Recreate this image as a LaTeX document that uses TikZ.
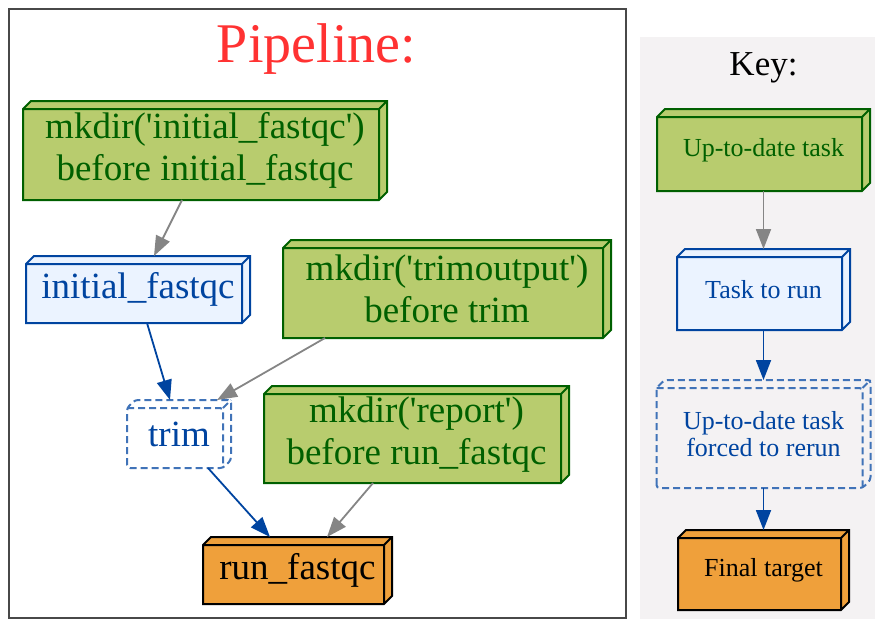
\documentclass[tikz,border=0pt]{standalone}
\usepackage{fontspec}
\setmainfont{Liberation Serif}[Ligatures=TeXOff]
\usetikzlibrary{arrows.meta,backgrounds}

\definecolor{donefill}{HTML}{B8CC6E}
\definecolor{doneline}{HTML}{006000}
\definecolor{runfill}{HTML}{EBF3FF}
\definecolor{runline}{HTML}{0044A0}
\definecolor{targetfill}{HTML}{EFA03B}
\definecolor{keybg}{HTML}{F4F2F3}
\definecolor{edgegray}{HTML}{858585}
\definecolor{titlered}{HTML}{FF3232}
\definecolor{framegray}{HTML}{484848}

% 3-D box: front face with an 8pt bevel to the upper right
\newcommand\cuboid[3]{%
  \fill[#2] (#1.south west) -- ([yshift=-8pt]#1.north west) -- ([xshift=8pt]#1.north west)
    -- (#1.north east) -- ([yshift=8pt]#1.south east) -- ([xshift=-8pt]#1.south east) -- cycle;
  \draw[#3] (#1.south west) -- ([yshift=-8pt]#1.north west) -- ([xshift=8pt]#1.north west)
    -- (#1.north east) -- ([yshift=8pt]#1.south east) -- ([xshift=-8pt]#1.south east) -- cycle
    ([yshift=-8pt]#1.north west) -- ([shift={(-8pt,-8pt)}]#1.north east) -- ([xshift=-8pt]#1.south east)
    ([shift={(-8pt,-8pt)}]#1.north east) -- (#1.north east);
}

\tikzset{
  task/.style={rectangle, inner sep=0pt, outer sep=0pt, align=center},
  big/.style={task, font=\fontsize{37}{42}\selectfont},
  small/.style={task, font=\fontsize{26}{27}\selectfont},
  donetext/.style={text=doneline},
  runtext/.style={text=runline},
  boxline/.style={line width=2pt, line join=miter},
  dashline/.style={line width=2pt, dash pattern=on 7pt off 4pt, rounded corners=3pt},
  grayedge/.style={draw=edgegray, line width=1.8pt, -{Triangle[length=20pt,width=15pt]}},
  blueedge/.style={draw=runline, line width=1.8pt, -{Triangle[length=20pt,width=15pt]}},
}

\begin{document}
\begin{tikzpicture}[x=1pt,y=-1pt]
\useasboundingbox (0,0) rectangle (875,619);

% pipeline cluster
\node[font=\fontsize{56}{60}\selectfont, text=titlered, anchor=base] (ptitle) at (316.5,62) {Pipeline:};

\node[big, donetext, minimum width=364pt, minimum height=99pt] (mk1) at (205,150.5)
  {mkdir('initial\_fastqc')\\before initial\_fastqc};
\node[big, runtext, minimum width=224pt, minimum height=67pt] (ifq) at (138,289.5) {initial\_fastqc};
\node[big, donetext, minimum width=328pt, minimum height=98pt] (mk2) at (447,289)
  {mkdir('trimoutput')\\before trim};
\node[big, runtext, minimum width=104pt, minimum height=68pt] (trim) at (179,434) {trim};
\node[big, donetext, minimum width=305pt, minimum height=97pt] (mk3) at (416.5,434.5)
  {mkdir('report')\\before run\_fastqc};
\node[big, minimum width=189pt, minimum height=67pt] (run) at (297.5,570.5) {run\_fastqc};

% key cluster
\node[font=\fontsize{35}{38}\selectfont, anchor=base] (ktitle) at (763.5,75) {Key:};
\node[small, donetext, minimum width=213pt, minimum height=82pt] (k1) at (763.5,150) {Up-to-date task};
\node[small, runtext, minimum width=173pt, minimum height=81pt] (k2) at (763.5,289.5) {Task to run};
\node[small, runtext, minimum width=214pt, minimum height=108pt] (k3) at (763.5,434)
  {Up-to-date task\\forced to rerun};
\node[small, minimum width=171pt, minimum height=80pt] (k4) at (763.5,570) {Final target};

\begin{scope}[on background layer]
  \fill[keybg] (640,37) rectangle (875,619);
  \draw[framegray, line width=2pt] (9,9) rectangle (626,618);
  \cuboid{mk1}{donefill}{boxline, doneline}
  \cuboid{ifq}{runfill}{boxline, runline}
  \cuboid{mk2}{donefill}{boxline, doneline}
  \cuboid{trim}{white}{dashline, runline!75}
  \cuboid{mk3}{donefill}{boxline, doneline}
  \cuboid{run}{targetfill}{boxline, black}
  \cuboid{k1}{donefill}{boxline, doneline}
  \cuboid{k2}{runfill}{boxline, runline}
  \cuboid{k3}{keybg}{dashline, runline!75}
  \cuboid{k4}{targetfill}{boxline, black}
\end{scope}

% dependencies
\draw[grayedge] ([xshift=159pt]mk1.south west) -- ([xshift=128pt]ifq.north west);
\draw[blueedge] ([xshift=121pt]ifq.south west) -- ([xshift=43pt]trim.north west);
\draw[grayedge] ([xshift=42pt]mk2.south west) -- ([xshift=90pt]trim.north west);
\draw[blueedge] ([xshift=81pt]trim.south west) -- ([xshift=67pt]run.north west);
\draw[grayedge] ([xshift=109pt]mk3.south west) -- ([xshift=124pt]run.north west);

\draw[grayedge] (k1.south) -- (k2.north);
\draw[blueedge] (k2.south) -- (k3.north);
\draw[blueedge] (k3.south) -- (k4.north);
\end{tikzpicture}
\end{document}
